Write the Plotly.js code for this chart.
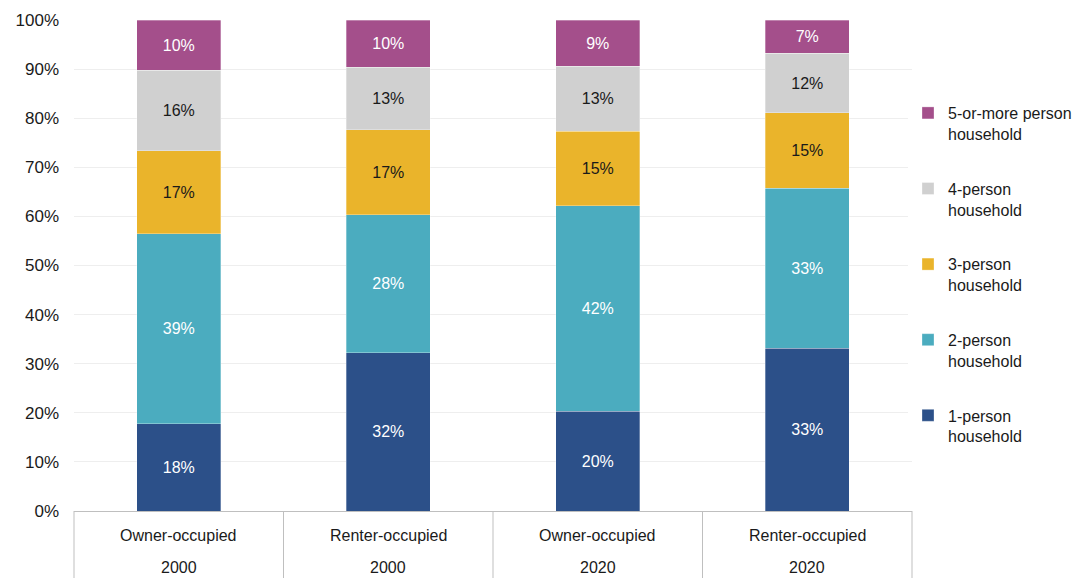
<!DOCTYPE html>
<html>
<head>
<meta charset="utf-8">
<script src="https://cdn.plot.ly/plotly-3.0.1.min.js"></script>
<style>html,body{margin:0;padding:0;background:#fff;}#chart{width:1087px;height:578px;}</style>
</head>
<body>
<div id="chart"></div>
<script>
// Categories (two-row labels)
const tenure = ["Owner-occupied", "Renter-occupied", "Owner-occupied", "Renter-occupied"];
const years = ["2000", "2000", "2020", "2020"];
const catKeys = ["Owner-occupied 2000", "Renter-occupied 2000", "Owner-occupied 2020", "Renter-occupied 2020"];

// Series (percent of households)
const seriesNames = ["1-person<br>household", "2-person<br>household", "3-person<br>household", "4-person<br>household", "5-or-more person<br>household"];
const onePerson = [17.8, 32.2, 20.3, 33.1];
const twoPerson = [38.7, 28.1, 41.9, 32.6];
const threePerson = [16.9, 17.3, 15.1, 15.4];
const fourPerson = [16.4, 12.8, 13.3, 12.1];
const fivePlus = [10.2, 9.6, 9.4, 6.8];

const colors = ["#2c5089", "#4bacbf", "#eab42b", "#d0d0d0", "#a44f8b"];
const textColors = ["#ffffff", "#ffffff", "#1a1a1a", "#1a1a1a", "#ffffff"];
const seriesValues = [onePerson, twoPerson, threePerson, fourPerson, fivePlus];

const FONT = "Liberation Sans, Arial, sans-serif";

const traces = seriesValues.map((vals, i) => ({
  type: "bar",
  name: seriesNames[i],
  legendgroup: "g" + i,
  legendrank: 1000 - i,
  x: catKeys,
  y: vals,
  marker: {color: colors[i], line: {color: "rgba(255,255,255,0.6)", width: 0.5}},
  texttemplate: "%{y:.0f}%",
  textposition: "inside",
  insidetextanchor: "middle",
  constraintext: "none",
  textangle: 0,
  textfont: {family: FONT, size: 16, color: textColors[i]},
  hoverinfo: "skip"
}));

const N = catKeys.length;
const shapes = [];
for (let i = 0; i <= N; i++) {
  shapes.push({type: "line", xref: "paper", yref: "paper", x0: i / N, x1: i / N, y0: 0, y1: -0.14,
    line: {color: "#bfbfbf", width: 1}});
}
const annotations = [];
for (let i = 0; i < N; i++) {
  annotations.push({xref: "x", yref: "paper", x: catKeys[i], y: -0.049, text: tenure[i], showarrow: false,
    yanchor: "middle", font: {family: FONT, size: 16, color: "#1a1a1a"}});
  annotations.push({xref: "x", yref: "paper", x: catKeys[i], y: -0.116, text: years[i], showarrow: false,
    yanchor: "middle", font: {family: FONT, size: 16, color: "#1a1a1a"}});
}

const layout = {
  width: 1087, height: 578,
  margin: {l: 74, r: 175, t: 20, b: 67, autoexpand: false},
  paper_bgcolor: "#ffffff", plot_bgcolor: "#ffffff",
  barmode: "stack",
  bargap: 0.6,
  showlegend: true,
  legend: {
    xref: "container", yref: "container",
    x: 908 / 1087, xanchor: "left", y: 1 - 96 / 578, yanchor: "top",
    maxheight: 470,
    traceorder: "grouped", tracegroupgap: 31, valign: "top",
    font: {family: FONT, size: 16, color: "#1a1a1a"}
  },
  xaxis: {
    type: "category", showticklabels: false, ticks: "", showgrid: false,
    showline: true, linecolor: "#bfbfbf", linewidth: 1, fixedrange: true
  },
  yaxis: {
    range: [0, 100], dtick: 10, ticksuffix: "%", showgrid: true, gridcolor: "#eeeeee", gridwidth: 1,
    zeroline: false, showline: false, ticks: "", ticklabelstandoff: 14,
    tickfont: {family: FONT, size: 17, color: "#1a1a1a"}, fixedrange: true
  },
  shapes: shapes,
  annotations: annotations
};

Plotly.newPlot("chart", traces, layout, {displayModeBar: false, staticPlot: true});
</script>
</body>
</html>
